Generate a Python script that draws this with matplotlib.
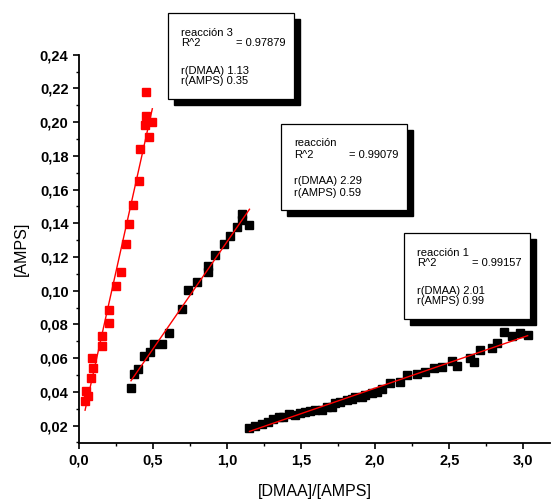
import numpy as np
import matplotlib
matplotlib.use("Agg")
import matplotlib.pyplot as plt
from matplotlib.patches import Rectangle
from matplotlib.ticker import MultipleLocator, FuncFormatter

plt.rcParams['font.family'] = ['Liberation Sans', 'DejaVu Sans']

# reacción 3 (rojo)
x3 = [0.041, 0.047, 0.063, 0.081, 0.090, 0.097, 0.157, 0.157, 0.201, 0.201,
      0.252, 0.282, 0.316, 0.336, 0.367, 0.403, 0.410, 0.446, 0.451, 0.475,
      0.495, 0.453]
y3 = [0.0346, 0.0405, 0.0377, 0.0484, 0.0599, 0.0540, 0.0674, 0.0730, 0.0810, 0.0886,
      0.1030, 0.1113, 0.1280, 0.1394, 0.1509, 0.1653, 0.1839, 0.1981, 0.2036, 0.1914,
      0.2003, 0.2179]

# reacción
x2 = [0.351, 0.374, 0.401, 0.439, 0.480, 0.509, 0.563, 0.610, 0.694, 0.739,
      0.795, 0.869, 0.870, 0.919, 0.978, 1.018, 1.066, 1.101, 1.151, 1.099]
y2 = [0.0421, 0.0506, 0.0536, 0.0615, 0.0638, 0.0684, 0.0684, 0.0751, 0.0892, 0.1004,
      0.1050, 0.1147, 0.1113, 0.1210, 0.1277, 0.1326, 0.1380, 0.1457, 0.1390, 0.1420]

# reacción 1
x1 = [1.151, 1.189, 1.234, 1.279, 1.313, 1.347, 1.380, 1.421, 1.459, 1.493,
      1.527, 1.561, 1.595, 1.640, 1.674, 1.707, 1.730, 1.764, 1.809, 1.842,
      1.865, 1.910, 1.932, 1.978, 2.011, 2.045, 2.101, 2.169, 2.214, 2.282,
      2.338, 2.394, 2.451, 2.518, 2.552, 2.642, 2.664, 2.709, 2.788, 2.822,
      2.867, 2.924, 2.980, 3.029]
y1 = [0.0184, 0.0198, 0.0210, 0.0223, 0.0238, 0.0249, 0.0253, 0.0267, 0.0263, 0.0273,
      0.0283, 0.0289, 0.0293, 0.0293, 0.0309, 0.0312, 0.0332, 0.0342, 0.0352, 0.0356,
      0.0368, 0.0372, 0.0382, 0.0395, 0.0401, 0.0415, 0.0451, 0.0461, 0.0500, 0.0506,
      0.0520, 0.0540, 0.0549, 0.0585, 0.0554, 0.0599, 0.0579, 0.0649, 0.0659, 0.0688,
      0.0757, 0.0732, 0.0751, 0.0738]

notas = [
    ("reacción 3", "0.97879", "1.13", "0.35"),
    ("reacción", "0.99079", "2.29", "0.59"),
    ("reacción 1", "0.99157", "2.01", "0.99"),
]

W, H = 557, 503
fig = plt.figure(figsize=(W / 100, H / 100), dpi=100)
ax = fig.add_axes([79 / W, 1 - 443.3 / H, 471 / W, 388.6 / H])

for xs, ys, c in [(x3, y3, 'red'), (x2, y2, 'black'), (x1, y1, 'black')]:
    xs = np.array(xs)
    ys = np.array(ys)
    ax.plot(xs, ys, 's', color=c, ms=6, mec=c, zorder=2)
    m, b = np.polyfit(xs, ys, 1)
    xx = np.array([xs.min(), xs.max()])
    ax.plot(xx, m * xx + b, color='red', lw=1, zorder=3)

ax.set_xlim(0, 3.18)
ax.set_ylim(0.0095, 0.24)
ax.spines['top'].set_visible(False)
ax.spines['right'].set_visible(False)
for s in ['left', 'bottom']:
    ax.spines[s].set_linewidth(1.3)

ax.xaxis.set_major_locator(MultipleLocator(0.5))
ax.xaxis.set_minor_locator(MultipleLocator(0.25))
ax.yaxis.set_major_locator(MultipleLocator(0.02))
ax.yaxis.set_minor_locator(MultipleLocator(0.01))
ax.xaxis.set_major_formatter(FuncFormatter(lambda v, p: f"{v:.1f}".replace('.', ',')))
ax.yaxis.set_major_formatter(FuncFormatter(lambda v, p: f"{v:.2f}".replace('.', ',')))
ax.tick_params(which='major', direction='out', length=4.5, width=1.2, labelsize=10.5, pad=3)
ax.tick_params(which='minor', direction='out', length=2.5, width=1.0)
for lab in ax.get_xticklabels() + ax.get_yticklabels():
    lab.set_fontweight('bold')

ax.set_xlabel("[DMAA]/[AMPS]", fontsize=11.5, labelpad=12)
ax.set_ylabel("[AMPS]", fontsize=11.5, labelpad=8)


def px(x, y):
    return x / W, 1 - y / H


# cuadros con los resultados del ajuste
cajas = [(168, 13), (281, 124), (404, 233)]
for (bx, by), (nombre, r2, rd, ra) in zip(cajas, notas):
    bw, bh = 126, 86
    sombra = Rectangle(px(bx + 6, by + bh + 6), bw / W, bh / H, transform=fig.transFigure,
                       facecolor='black', edgecolor='black', zorder=5)
    caja = Rectangle(px(bx, by + bh), bw / W, bh / H, transform=fig.transFigure,
                     facecolor='white', edgecolor='black', lw=0.9, zorder=6)
    fig.add_artist(sombra)
    fig.add_artist(caja)
    tx = bx + 13
    kw = dict(transform=fig.transFigure, fontsize=8, va='center', ha='left', zorder=7)
    fig.text(*px(tx, by + 19.5), nombre, **kw)
    fig.text(*px(tx, by + 30.5), "R^2", **kw)
    fig.text(*px(tx + 55, by + 30.5), "= " + r2, **kw)
    fig.text(*px(tx, by + 57.5), "r(DMAA) " + rd, **kw)
    fig.text(*px(tx, by + 68.5), "r(AMPS) " + ra, **kw)

fig.savefig("out.png", dpi=100)
